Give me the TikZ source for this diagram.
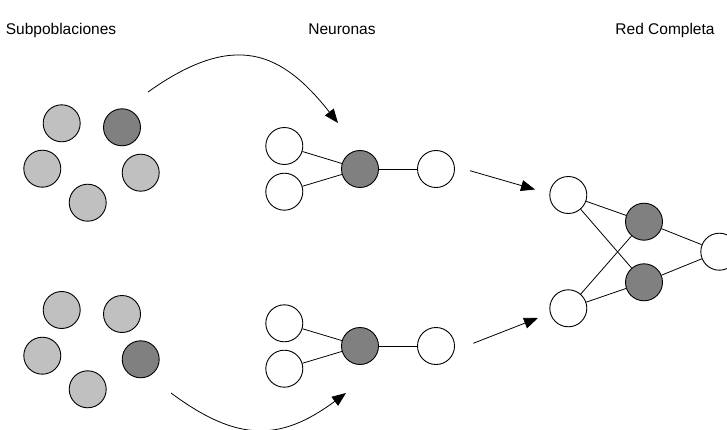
\documentclass[tikz,border=0pt]{standalone}
\usepackage{fontspec}
\setmainfont{Liberation Sans}
\usetikzlibrary{arrows.meta}
\definecolor{popgray}{RGB}{192,192,192}
\definecolor{actgray}{RGB}{128,128,128}

\begin{document}
\begin{tikzpicture}[
  x=1pt, y=-1pt,
  >=Stealth,
  % Neuron circles -- one size, three fills
  cell/.style   = {circle, draw=black, line width=0.9pt, fill=white,
                   minimum size=37pt, inner sep=0pt},
  popcell/.style= {cell, fill=popgray},
  actcell/.style= {cell, fill=actgray},
  % Column heading
  hd/.style     = {font=\fontsize{15.5}{18}\selectfont, anchor=base},
  % Connections and transfer arrows
  syn/.style    = {line width=0.8pt, color=black},
  arr/.style    = {-{Triangle[length=14pt,width=11pt]},
                   line width=0.8pt, color=black}
]
\useasboundingbox (0,0) rectangle (727,430);

% Headings
\node[hd](HS) at ( 61,35){Subpoblaciones};
\node[hd](HN) at (342,35){Neuronas};
\node[hd](HR) at (665,35){Red Completa};

% Subpopulation, upper
\node[popcell](A1) at ( 61.7,123.3){};
\node[actcell](A2) at (122.0,127.3){};
\node[popcell](A3) at ( 42.3,168.7){};
\node[popcell](A4) at (140.7,172.7){};
\node[popcell](A5) at ( 87.7,202.7){};

% Subpopulation, lower
\node[popcell](B1) at ( 61.7,310.0){};
\node[popcell](B2) at (122.0,314.0){};
\node[popcell](B3) at ( 42.3,355.7){};
\node[actcell](B4) at (140.7,359.3){};
\node[popcell](B5) at ( 87.7,389.3){};

% Single neurons
\node[cell]   (NAa) at (284.3,146.0){};
\node[cell]   (NAb) at (284.3,191.7){};
\node[actcell](NAh) at (360.0,169.0){};
\node[cell]   (NAo) at (436.0,169.0){};
\node[cell]   (NBa) at (284.3,323.3){};
\node[cell]   (NBb) at (284.3,368.7){};
\node[actcell](NBh) at (360.0,346.0){};
\node[cell]   (NBo) at (436.0,346.0){};

\draw[syn](NAa)--(NAh);
\draw[syn](NAb)--(NAh);
\draw[syn](NAh)--(NAo);
\draw[syn](NBa)--(NBh);
\draw[syn](NBb)--(NBh);
\draw[syn](NBh)--(NBo);

% Complete network
\node[cell]   (R1) at (568.3,195.0){};
\node[cell]   (R2) at (568.3,308.3){};
\node[actcell](H1) at (644.0,221.7){};
\node[actcell](H2) at (644.0,282.3){};
\node[cell]   (RO) at (719.3,251.7){};

\draw[syn](R1)--(H1);
\draw[syn](R1)--(H2);
\draw[syn](R2)--(H1);
\draw[syn](R2)--(H2);
\draw[syn](H1)--(RO);
\draw[syn](H2)--(RO);

% Transfer arrows
\coordinate(TA0) at (148,92);
\coordinate(TA1) at (338,123);
\coordinate(TB0) at (171,393);
\coordinate(TB1) at (346,393);
\draw[arr](TA0) .. controls (235,30) and (282,52) .. (TA1);
\draw[arr](TB0) .. controls (237,442) and (280,442) .. (TB1);

\coordinate(CA0) at (470,170.7);
\coordinate(CA1) at (535,189.5);
\coordinate(CB0) at (473.3,343.3);
\coordinate(CB1) at (538,318);
\draw[arr](CA0)--(CA1);
\draw[arr](CB0)--(CB1);

\end{tikzpicture}
\end{document}
